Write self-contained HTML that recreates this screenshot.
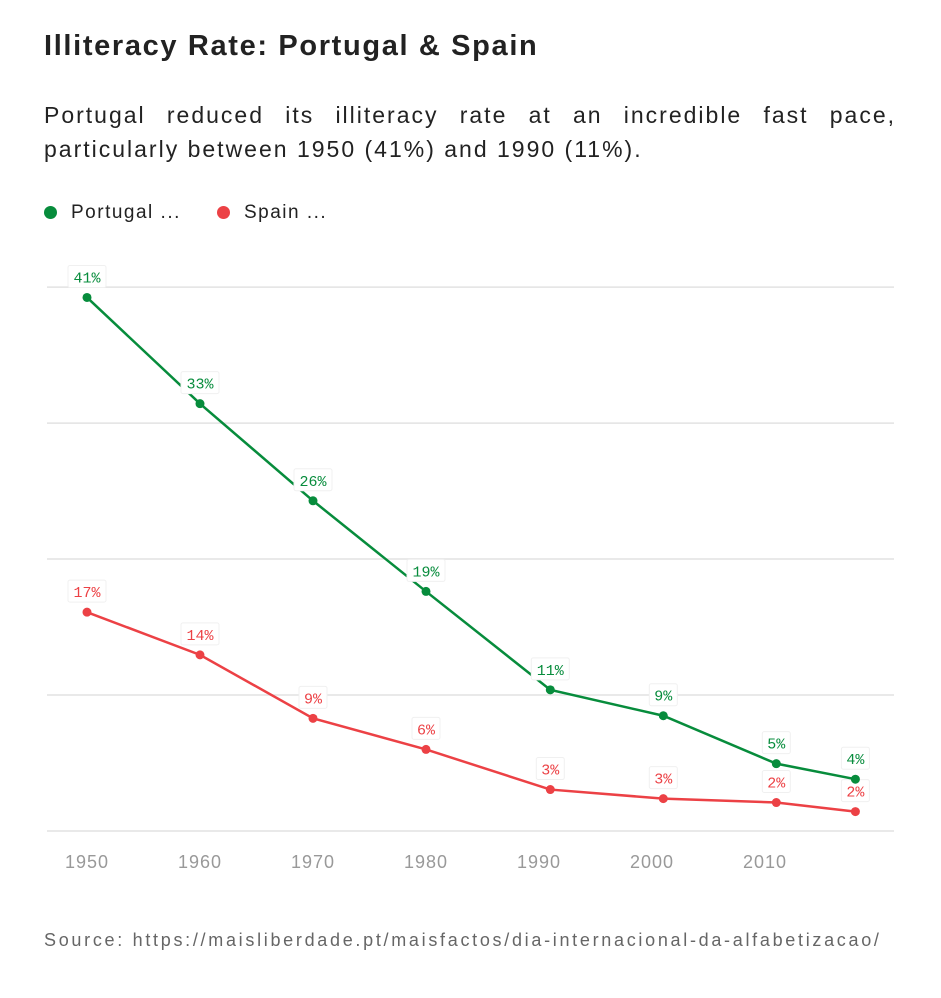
<!DOCTYPE html>
<html><head><meta charset="utf-8"><style>
body{margin:0;background:#fff;width:941px;height:998px;overflow:hidden;font-family:"Liberation Sans",sans-serif;color:#222}
h1{position:absolute;left:44px;top:30px;margin:0;font-size:29px;font-weight:bold;letter-spacing:1.65px}
.sub{position:absolute;left:44px;width:852px;margin:0;font-size:23px;line-height:34px;letter-spacing:2px}
.j{text-align:justify;text-align-last:justify}
.leg{position:absolute;top:202px;font-size:19px;letter-spacing:1.5px}
.dot{display:inline-block;width:13px;height:13px;border-radius:50%;margin-right:14px;vertical-align:-1px}
.src{position:absolute;left:44px;top:930px;font-size:18px;color:#666;letter-spacing:2.7px}
svg{position:absolute;left:0;top:0}
</style></head><body>
<h1>Illiteracy Rate: Portugal &amp; Spain</h1>
<div>
<div class="sub j" style="top:98px">Portugal reduced its illiteracy rate at an incredible fast pace,</div>
<div class="sub" style="top:132px">particularly between 1950 (41%) and 1990 (11%).</div>
</div>
<div class="leg" style="left:44px"><span class="dot" style="background:#078c3c"></span>Portugal ...</div>
<div class="leg" style="left:217px"><span class="dot" style="background:#ec4145"></span>Spain ...</div>
<svg id="chart" width="941" height="998"></svg>
<div class="src">Source: https://maisliberdade.pt/maisfactos/dia-internacional-da-alfabetizacao/</div>
<script>
const years=[1950,1960,1970,1980,1991,2001,2011,2018];
const portugal=[41.2,33,25.5,18.5,10.9,8.9,5.2,4.0];
const spain=[16.9,13.6,8.7,6.3,3.2,2.5,2.2,1.5];
const portugalLabels=["41%","33%","26%","19%","11%","9%","5%","4%"];
const spainLabels=["17%","14%","9%","6%","3%","3%","2%","2%"];
const xTicks=[1950,1960,1970,1980,1990,2000,2010];
const gridVals=[0,10.5,21,31.5,42];
const NS="http://www.w3.org/2000/svg";
const svg=document.getElementById('chart');
const x=y=>87+(y-1950)*11.3;
const yS=v=>831-v*12.95;
function mk(t,a){const e=document.createElementNS(NS,t);for(const k in a)e.setAttribute(k,a[k]);svg.appendChild(e);return e;}
gridVals.forEach(v=>{const l=mk('line',{x1:47,x2:894,y1:yS(v),y2:yS(v),stroke:'#e2e2e2','stroke-width':1.5});

});
xTicks.forEach(t=>{const e=mk('text',{x:x(t),y:868,'text-anchor':'middle','font-size':18,fill:'#999','letter-spacing':1,'font-family':'Liberation Sans, sans-serif'});e.textContent=t;

});
function series(vals,labels,color,name){
 const p=mk('polyline',{points:vals.map((v,i)=>x(years[i])+','+yS(v)).join(' '),fill:'none',stroke:color,'stroke-width':2.5});
 
 
 vals.forEach((v,i)=>{
  const c=mk('circle',{cx:x(years[i]),cy:yS(v),r:4.5,fill:color});
  
  
  const w=labels[i].length*10+8;
  const r=mk('rect',{x:x(years[i])-w/2,y:yS(v)-32,width:w,height:22,rx:2,fill:'#fff',stroke:'#f0f0f0'});
  
  
  const t=mk('text',{x:x(years[i]),y:yS(v)-15,'text-anchor':'middle','font-size':15,fill:color,'font-family':'Liberation Mono, monospace'});
  t.textContent=labels[i];
  
  
 });
}
series(spain,spainLabels,'#ec4145','spain');
series(portugal,portugalLabels,'#078c3c','portugal');
</script>
</body></html>
